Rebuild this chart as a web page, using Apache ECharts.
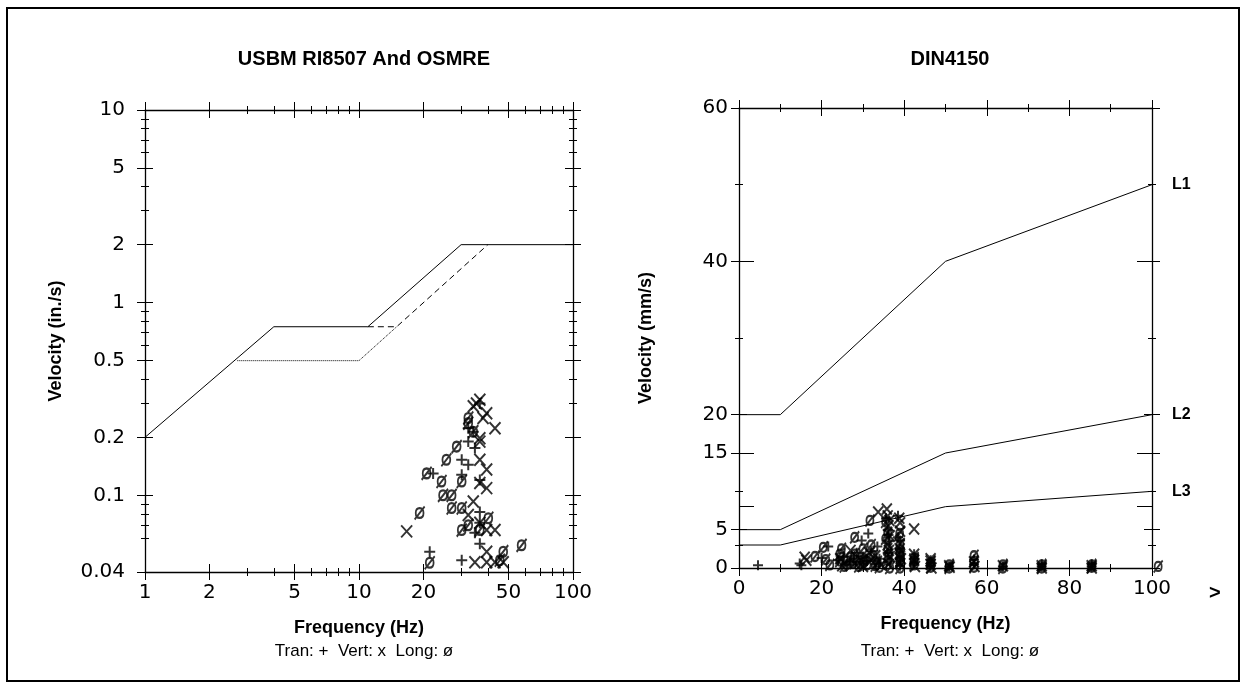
<!DOCTYPE html>
<html>
<head>
<meta charset="utf-8">
<script src="https://cdn.jsdelivr.net/npm/echarts@6/dist/echarts.min.js"></script>
<style>
  html, body { margin: 0; padding: 0; background: #fff; }
  #main { width: 1246px; height: 688px; }
</style>
</head>
<body>
<div id="main"></div>
<script>
// ---- USBM RI8507 / OSMRE (frequency Hz, velocity in/s) ----
var usbmLine = [[1, 0.2], [4, 0.75], [11, 0.75], [30, 2], [100, 2]];
var plasterLine = [[2.7, 0.5], [10, 0.5], [15, 0.75]];
var osmreLine = [[11, 0.75], [15, 0.75], [40, 2]];

var usbmTran = [[32.4, 0.223], [32.4, 0.19], [34.8, 0.176], [30.2, 0.153], [32.4, 0.144], [22.2, 0.13],
    [30.2, 0.128], [36.7, 0.12], [36.7, 0.082], [36.7, 0.072], [34.8, 0.064], [36.7, 0.056],
    [21.4, 0.051], [30.2, 0.046], [36.7, 0.30], [34.2, 0.214]];
var usbmVert = [[35.4, 0.30], [36.7, 0.313], [34.2, 0.29], [39.5, 0.267], [38, 0.252], [43.2, 0.223],
    [36.7, 0.198], [36.7, 0.19], [36.7, 0.153], [39.5, 0.136], [36.7, 0.116], [39.5, 0.109],
    [34.2, 0.093], [32.4, 0.079], [36.7, 0.072], [39.5, 0.066], [43.2, 0.066], [16.7, 0.065],
    [39.5, 0.051], [34.8, 0.045], [39.5, 0.045], [43.2, 0.045], [47.2, 0.045]];
var usbmLong = [[32.4, 0.252], [32.4, 0.237], [34.2, 0.214], [28.6, 0.179], [25.6, 0.153], [20.7, 0.13],
    [24.3, 0.118], [30.2, 0.118], [24.7, 0.1], [27.1, 0.1], [27.1, 0.086], [30.2, 0.086],
    [19.2, 0.081], [40.2, 0.076], [32.4, 0.070], [30.2, 0.066], [36.7, 0.066], [57.5, 0.055],
    [47.2, 0.051], [21.4, 0.0447], [45.5, 0.046]];

var freqLabelTicks = [1, 2, 5, 10, 20, 50, 100];
var freqMinorTicks = [3, 4, 6, 7, 8, 9, 30, 40, 60, 70, 80, 90];
var inLabelTicks = [0.04, 0.1, 0.2, 0.5, 1, 2, 5, 10];
var inMinorTicks = [0.06, 0.07, 0.08, 0.09, 0.3, 0.4, 0.6, 0.7, 0.8, 0.9, 3, 4, 6, 7, 8, 9];

// ---- DIN4150 (frequency Hz, velocity mm/s) ----
var dinL1 = [[0, 20], [10, 20], [50, 40], [100, 50]];
var dinL2 = [[0, 5], [10, 5], [50, 15], [100, 20]];
var dinL3 = [[0, 3], [10, 3], [50, 8], [100, 10]];

var dinTran = [[4.6, 0.35], [14.7, 0.6], [15.1, 0.35], [20, 1.3], [21.6, 2.8], [24, 1.0], [26, 0.5],
    [27, 0.8], [29.7, 3.6], [30, 1.5], [31.3, 4.5], [32, 2.2], [33, 0.5], [34, 1.2], [35.6, 6.5],
    [36, 5.0], [36.5, 3.5], [36, 2.0], [36.5, 0.8], [38.5, 6.8], [38.5, 4.0], [38.9, 2.5],
    [38.9, 1.2], [39, 0.3], [42.4, 1.8], [42.4, 0.6], [46.4, 1.0], [46.4, 0.3], [50.9, 0.2],
    [56.9, 0.5], [63.9, 0.2], [73.3, 0.2], [85.4, 0.2], [25.5, 1.5], [28.5, 2.0], [31, 0.9],
    [33.5, 2.8], [36.2, 4.3], [39, 3.6], [42.5, 1.2], [56.9, 1.1], [73.3, 0.5], [85.4, 0.5]];
var dinVert = [[16.3, 1.0], [15.9, 1.4], [25, 0.3], [28, 0.6], [30, 0.2], [32, 1.0], [33.7, 7.3],
    [34.5, 0.4], [35.8, 7.7], [36, 6.8], [36.2, 5.5], [36.5, 4.2], [36, 3.0], [36.5, 1.5], [36.2, 0.5],
    [38.8, 6.5], [39, 5.9], [38.9, 3.2], [38.9, 2.5], [39, 1.8], [39, 0.6], [42.4, 5.1], [42.4, 1.8],
    [42.4, 1.0], [42.6, 0.2], [46.4, 1.2], [46.4, 0.5], [46.6, 0], [50.9, 0.3], [56.9, 0.8], [57, 0.2],
    [63.9, 0.3], [73.3, 0.3], [73.3, 0], [85.4, 0.3], [85.4, 0], [24.5, 1.2], [27, 2.3], [29.5, 1.0],
    [31.5, 2.0], [33, 1.6], [36.3, 2.3], [36.4, 6.2], [39, 4.8], [39.2, 1.2], [46.4, 0.9], [51, 0.1]];
var dinLong = [[18.4, 1.5], [20.4, 2.7], [21, 1.1], [22, 0.4], [24.8, 2.5], [24.4, 1.8], [24.4, 0.9],
    [25.5, 0.2], [27, 1.4], [27.5, 0.6], [28, 4.0], [28.6, 1.0], [29, 0.2], [30, 2.5], [30.5, 1.2],
    [31, 0.4], [31.7, 6.2], [32, 3.0], [32.5, 1.6], [33.5, 0.8], [34, 0.1], [35.5, 6.0], [36, 4.6],
    [36, 2.5], [36, 1.0], [36.5, 0], [38.9, 4.5], [38.9, 2.0], [38.9, 0.9], [39, 0], [42.4, 0.4],
    [42.4, 1.3], [46.4, 0.1], [46.4, 0.7], [50.9, 0.0], [50.9, 0.4], [56.9, 1.6], [56.9, 0.9],
    [56.9, 0.1], [63.9, 0.0], [73.3, 0.0], [73.3, 0.4], [85.4, 0.1], [101.5, 0.2], [26, 0.9],
    [28, 1.8], [30, 0.7], [33, 0.3], [35.5, 3.8], [36.3, 1.8], [39, 3.0], [39.1, 1.5], [42.4, 0.9],
    [63.9, 0.4], [85.4, 0.4]];

var dinFreqLabels = [0, 20, 40, 60, 80, 100];
var dinFreqMinor = [10, 30, 50, 70, 90];
var dinVelLabels = [0, 5, 15, 20, 40, 60];
var dinVelMid = [8, 15, 40];
var dinVelMinor = [3, 10, 30, 50];

var PLUS = 'path://M0,5L10,5M5,0L5,10';
var CROSS = 'path://M1,0L9,11M9,0L1,11';
var SLASHO = 'path://M5,1.5C7.5,1.5 8.5,3.5 8.5,6C8.5,8.5 7.5,10.5 5,10.5C2.5,10.5 1.5,8.5 1.5,6C1.5,3.5 2.5,1.5 5,1.5ZM0.5,12L9.5,0';

function lg(v) { return Math.log10(v); }
function lgPairs(arr) { return arr.map(function (p) { return [lg(p[0]), lg(p[1])]; }); }
function lgList(arr) { return arr.map(lg); }
function powLabel(v) { return String(Number(Math.pow(10, v).toPrecision(2))); }

var tickFont = { color: '#000', fontFamily: 'DejaVu Sans', fontSize: 20 };
var nameFont = { color: '#000', fontFamily: 'Liberation Sans', fontSize: 18, fontWeight: 'bold' };

// one edge of a box = several overlapping axes, one per tick style
function edge(grid, pos, min, max, specs, first) {
    return specs.map(function (t, i) {
        var ax = {
            type: 'value', gridIndex: grid, position: pos, min: min, max: max,
            axisLine: { show: i === 0, onZero: false, lineStyle: { color: '#000', width: 1.3 } },
            splitLine: { show: false },
            axisTick: { show: true, customValues: t.v, length: t.len, inside: t.inside, lineStyle: { color: '#000', width: 1 } },
            axisLabel: { show: false }
        };
        if (i === 0 && first) Object.assign(ax, first);
        return ax;
    });
}
function crossTicks(v, len) { return [{ v: v, len: len, inside: false }, { v: v, len: len, inside: true }]; }

var lxMajor = lgList(freqLabelTicks), lxMinor = lgList(freqMinorTicks);
var lyMajor = lgList(inLabelTicks), lyMinor = lgList(inMinorTicks);
var lxSpecs = crossTicks(lxMajor, 8).concat(crossTicks(lxMinor, 4));
var lySpecs = crossTicks(lyMajor, 8).concat(crossTicks(lyMinor, 4));
var rxSpecs = crossTicks(dinFreqLabels, 8).concat(crossTicks(dinFreqMinor, 4));
var rySpecs = crossTicks(dinVelLabels, 8).concat([{ v: dinVelMid, len: 15, inside: true }]).concat(crossTicks(dinVelMinor, 4));

var xAxes = [].concat(
    edge(0, 'bottom', 0, 2, lxSpecs, {
        name: 'Frequency (Hz)', nameLocation: 'middle', nameGap: 47, nameTextStyle: nameFont,
        axisLabel: Object.assign({ show: true, customValues: lxMajor, formatter: powLabel, margin: 11 }, tickFont)
    }),
    edge(0, 'top', 0, 2, lxSpecs, null)
);
var rx0 = xAxes.length;
xAxes = xAxes.concat(
    edge(1, 'bottom', 0, 100, rxSpecs, {
        name: 'Frequency (Hz)', nameLocation: 'middle', nameGap: 47, nameTextStyle: nameFont,
        axisLabel: Object.assign({ show: true, customValues: dinFreqLabels, margin: 11 }, tickFont)
    }),
    edge(1, 'top', 0, 100, rxSpecs, null)
);

var yAxes = [].concat(
    edge(0, 'left', lg(0.04), 1, lySpecs, {
        name: 'Velocity (in./s)', nameLocation: 'middle', nameGap: 80, nameTextStyle: nameFont,
        axisLabel: Object.assign({ show: true, customValues: lyMajor, formatter: powLabel, margin: 20 }, tickFont)
    }),
    edge(0, 'right', lg(0.04), 1, lySpecs, null)
);
var ry0 = yAxes.length;
yAxes = yAxes.concat(
    edge(1, 'left', 0, 60, rySpecs, {
        name: 'Velocity (mm/s)', nameLocation: 'middle', nameGap: 84, nameTextStyle: nameFont,
        axisLabel: Object.assign({ show: true, customValues: dinVelLabels, margin: 11 }, tickFont)
    }),
    edge(1, 'right', 0, 60, rySpecs, null)
);

function lineSeries(name, data, xi, yi, type, endLabel) {
    return {
        name: name, type: 'line', data: data, xAxisIndex: xi, yAxisIndex: yi,
        symbol: 'none', silent: true, animation: false,
        lineStyle: { color: '#000', width: 1, type: type },
        endLabel: endLabel ? { show: true, formatter: name, distance: 20, color: '#000',
            fontFamily: 'Liberation Sans', fontWeight: 'bold', fontSize: 16 } : { show: false }
    };
}
function marks(name, data, xi, yi, sym, size) {
    return {
        name: name, type: 'scatter', data: data, xAxisIndex: xi, yAxisIndex: yi,
        symbol: sym, symbolSize: size, clip: false, animation: false,
        itemStyle: { color: 'none', borderColor: '#000', borderWidth: 2 }
    };
}

var titleFont = { fontFamily: 'Liberation Sans', fontSize: 20, fontWeight: 'bold', color: '#000' };
var legendFont = { fontFamily: 'Liberation Sans', fontSize: 17, fontWeight: 'normal', color: '#000' };

var chart = echarts.init(document.getElementById('main'));
chart.setOption({
    backgroundColor: '#fff',
    animation: false,
    title: [
        { text: 'USBM RI8507 And OSMRE', left: 359, top: 44, textAlign: 'center', textStyle: titleFont },
        { text: 'DIN4150', left: 945, top: 44, textAlign: 'center', textStyle: titleFont },
        { text: 'Tran: +  Vert: x  Long: ø', left: 359, top: 638, textAlign: 'center', textStyle: legendFont },
        { text: 'Tran: +  Vert: x  Long: ø', left: 945, top: 638, textAlign: 'center', textStyle: legendFont },
        { text: '>', left: 1204, top: 578,
          textStyle: { fontFamily: 'Liberation Sans', fontSize: 20, fontWeight: 'bold', color: '#000' } }
    ],
    graphic: [{
        type: 'rect', shape: { x: 7, y: 8, width: 1232, height: 673 },
        style: { fill: 'none', stroke: '#000', lineWidth: 2 }, silent: true
    }],
    grid: [
        { left: 145, top: 110, width: 428, height: 462 },
        { left: 739, top: 108, width: 413, height: 460 }
    ],
    xAxis: xAxes,
    yAxis: yAxes,
    series: [
        lineSeries('USBM', lgPairs(usbmLine), 0, 0, 'solid'),
        lineSeries('Plaster', lgPairs(plasterLine), 0, 0, 'dotted'),
        lineSeries('OSMRE', lgPairs(osmreLine), 0, 0, [6, 4]),
        marks('Tran', lgPairs(usbmTran), 0, 0, PLUS, [11, 11]),
        marks('Vert', lgPairs(usbmVert), 0, 0, CROSS, [11, 12]),
        marks('Long', lgPairs(usbmLong), 0, 0, SLASHO, [10, 13]),
        lineSeries('L1', dinL1, rx0, ry0, 'solid', true),
        lineSeries('L2', dinL2, rx0, ry0, 'solid', true),
        lineSeries('L3', dinL3, rx0, ry0, 'solid', true),
        marks('Tran', dinTran, rx0, ry0, PLUS, [10, 10]),
        marks('Vert', dinVert, rx0, ry0, CROSS, [10, 11]),
        marks('Long', dinLong, rx0, ry0, SLASHO, [9, 12])
    ]
});
</script>
</body>
</html>
